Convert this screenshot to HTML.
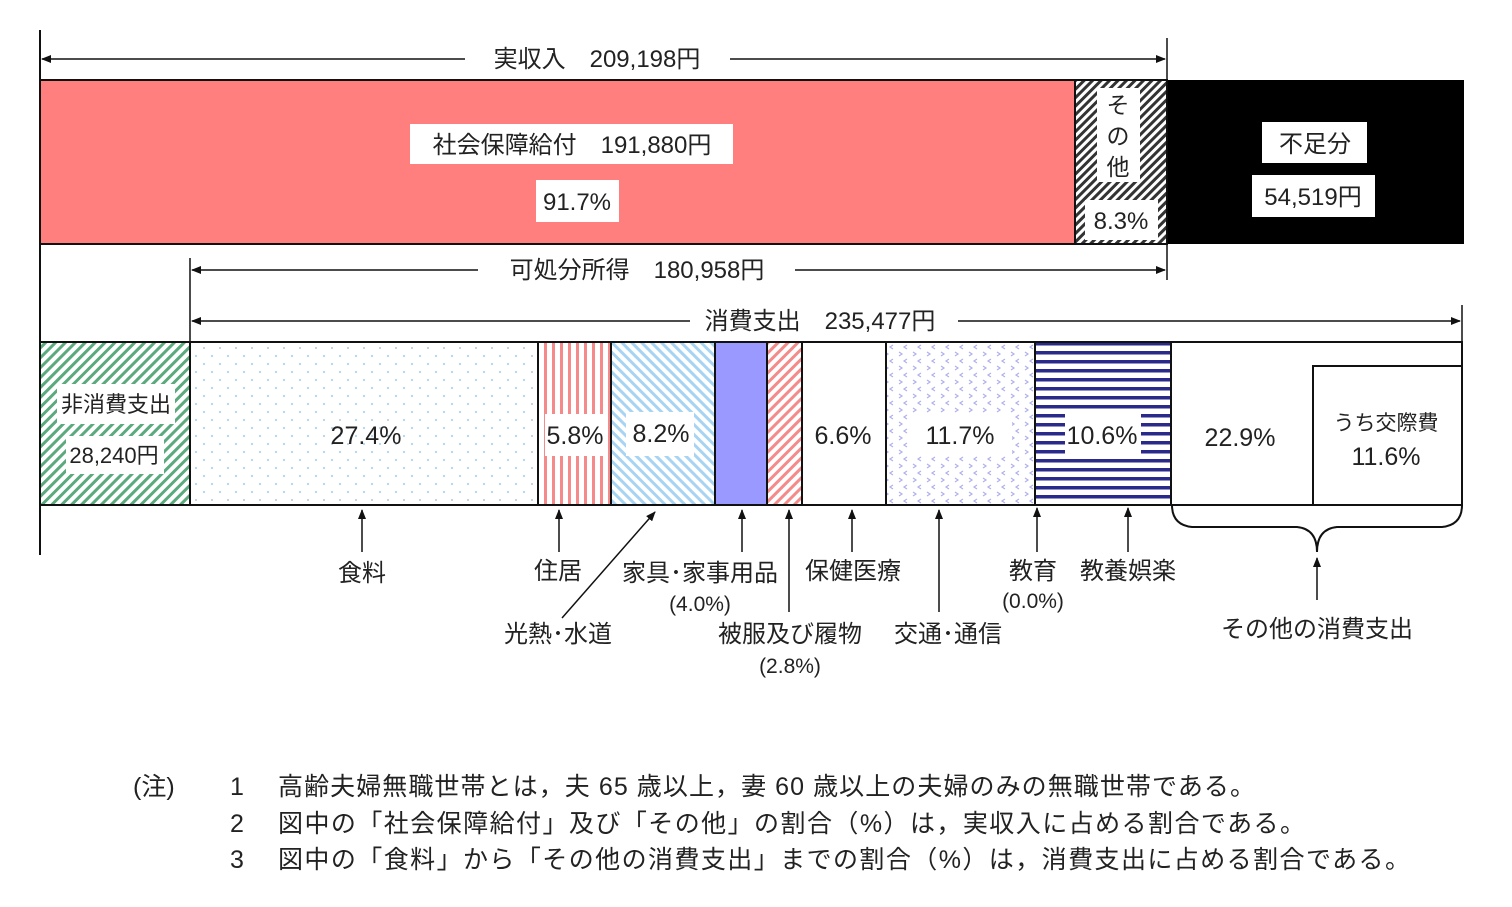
<!DOCTYPE html>
<html><head><meta charset="utf-8"><style>
html,body{margin:0;padding:0;background:#fff;}
svg text{font-family:"Liberation Sans","Noto Sans CJK JP",sans-serif;fill:#222;}
</style></head><body>
<svg width="1512" height="902" viewBox="0 0 1512 902" xmlns="http://www.w3.org/2000/svg">
<defs>
<marker id="ar" markerWidth="10" markerHeight="8" refX="9" refY="4" orient="auto" markerUnits="userSpaceOnUse"><path d="M0,0 L10,4 L0,8 z" fill="#111"/></marker>
<pattern id="bw" width="6" height="6" patternUnits="userSpaceOnUse" patternTransform="rotate(45)"><rect width="6" height="6" fill="#fff"/><rect width="3" height="6" fill="#333"/></pattern>
<pattern id="gr" width="7" height="7" patternUnits="userSpaceOnUse" patternTransform="rotate(45)"><rect width="7" height="7" fill="#fff"/><rect width="3" height="7" fill="#5aaa7e"/></pattern>
<pattern id="dot" width="16" height="16" patternUnits="userSpaceOnUse"><rect width="16" height="16" fill="#fff"/><circle cx="4" cy="4" r="1" fill="#a8cbe8"/><circle cx="12" cy="12" r="1" fill="#a8cbe8"/></pattern>
<pattern id="rv" width="8" height="8" patternUnits="userSpaceOnUse"><rect width="8" height="8" fill="#fff"/><rect width="3" height="8" fill="#f48a8a"/></pattern>
<pattern id="bd" width="7" height="7" patternUnits="userSpaceOnUse" patternTransform="rotate(-45)"><rect width="7" height="7" fill="#fff"/><rect width="3" height="7" fill="#a8d4f4"/></pattern>
<pattern id="rd" width="7" height="7" patternUnits="userSpaceOnUse" patternTransform="rotate(45)"><rect width="7" height="7" fill="#fff"/><rect width="3" height="7" fill="#f48a8a"/></pattern>
<pattern id="ch" width="14" height="14" patternUnits="userSpaceOnUse"><rect width="14" height="14" fill="#fff"/><path d="M3,2 l3,2 l-3,2 M11,9 l-3,2 l3,2" stroke="#b0b0ee" stroke-width="1.2" fill="none"/></pattern>
<pattern id="hs" width="10" height="9" patternUnits="userSpaceOnUse"><rect width="10" height="9" fill="#fff"/><rect y="0" width="10" height="3.5" fill="#2a2a8a"/></pattern>
</defs>

<rect x="40" y="80" width="1035" height="164" fill="#ff7f7f" stroke="#111" stroke-width="2"/>
<rect x="1075" y="80" width="92" height="164" fill="url(#bw)" stroke="#111" stroke-width="2"/>
<rect x="1167" y="80" width="297" height="164" fill="#000"/>
<rect x="410" y="124" width="323" height="40" fill="#fff"/>
<text x="572" y="153" font-size="24" text-anchor="middle">社会保障給付　191,880円</text>
<rect x="536" y="180" width="83" height="42" fill="#fff"/>
<text x="577" y="210" font-size="24" text-anchor="middle">91.7%</text>
<rect x="1097" y="88" width="43" height="94" fill="#fff"/>
<text x="1118" y="113" font-size="23" text-anchor="middle">そ</text>
<text x="1118" y="144" font-size="23" text-anchor="middle">の</text>
<text x="1118" y="175" font-size="23" text-anchor="middle">他</text>
<rect x="1085" y="200" width="73" height="40" fill="#fff"/>
<text x="1121" y="229" font-size="24" text-anchor="middle">8.3%</text>
<rect x="1262" y="122" width="105" height="41" fill="#fff"/>
<text x="1315" y="152" font-size="24" text-anchor="middle">不足分</text>
<rect x="1252" y="175" width="123" height="42" fill="#fff"/>
<text x="1313" y="205" font-size="24" text-anchor="middle">54,519円</text>

<line x1="40" y1="30" x2="40" y2="555" stroke="#111" stroke-width="2"/>
<line x1="1167" y1="38" x2="1167" y2="280" stroke="#111" stroke-width="1.5"/>
<line x1="190" y1="258" x2="190" y2="342" stroke="#111" stroke-width="1.5"/>
<line x1="1462" y1="305" x2="1462" y2="342" stroke="#111" stroke-width="1.5"/>
<line x1="40" y1="342" x2="1462" y2="342" stroke="#111" stroke-width="2"/>

<line x1="465" y1="59" x2="42" y2="59" stroke="#111" stroke-width="1.5" marker-end="url(#ar)"/>
<line x1="730" y1="59" x2="1165" y2="59" stroke="#111" stroke-width="1.5" marker-end="url(#ar)"/>
<text x="597" y="67" font-size="24" text-anchor="middle">実収入　209,198円</text>
<line x1="478" y1="270" x2="192" y2="270" stroke="#111" stroke-width="1.5" marker-end="url(#ar)"/>
<line x1="795" y1="270" x2="1165" y2="270" stroke="#111" stroke-width="1.5" marker-end="url(#ar)"/>
<text x="637" y="278" font-size="24" text-anchor="middle">可処分所得　180,958円</text>
<line x1="690" y1="321" x2="192" y2="321" stroke="#111" stroke-width="1.5" marker-end="url(#ar)"/>
<line x1="958" y1="321" x2="1460" y2="321" stroke="#111" stroke-width="1.5" marker-end="url(#ar)"/>
<text x="820" y="329" font-size="24" text-anchor="middle">消費支出　235,477円</text>

<g stroke="#111" stroke-width="2">
<rect x="40" y="342" width="150" height="163" fill="url(#gr)"/>
<rect x="190" y="342" width="348" height="163" fill="url(#dot)"/>
<rect x="538" y="342" width="73" height="163" fill="url(#rv)"/>
<rect x="611" y="342" width="104" height="163" fill="url(#bd)"/>
<rect x="715" y="342" width="52" height="163" fill="#9999ff"/>
<rect x="767" y="342" width="35" height="163" fill="url(#rd)"/>
<rect x="802" y="342" width="84" height="163" fill="#fff"/>
<rect x="886" y="342" width="149" height="163" fill="url(#ch)"/>
<rect x="1035" y="342" width="136" height="163" fill="url(#hs)"/>
<rect x="1171" y="342" width="291" height="163" fill="#fff"/>
<rect x="1313" y="366" width="149" height="139" fill="#fff"/>
</g>
<rect x="57" y="384" width="118" height="40" fill="#fff"/>
<text x="116" y="412" font-size="22" text-anchor="middle">非消費支出</text>
<rect x="66" y="436" width="98" height="38" fill="#fff"/>
<text x="114" y="463" font-size="22" text-anchor="middle">28,240円</text>
<text x="366" y="444" font-size="25" text-anchor="middle">27.4%</text>
<rect x="545" y="414" width="60" height="42" fill="#fff"/>
<text x="575" y="444" font-size="25" text-anchor="middle">5.8%</text>
<rect x="626" y="412" width="68" height="44" fill="#fff"/>
<text x="661" y="442" font-size="25" text-anchor="middle">8.2%</text>
<text x="843" y="444" font-size="25" text-anchor="middle">6.6%</text>
<rect x="912" y="414" width="100" height="42" fill="#fff"/>
<text x="960" y="444" font-size="25" text-anchor="middle">11.7%</text>
<rect x="1065" y="414" width="76" height="42" fill="#fff"/>
<text x="1102" y="444" font-size="25" text-anchor="middle">10.6%</text>
<text x="1240" y="446" font-size="25" text-anchor="middle">22.9%</text>
<text x="1386" y="430" font-size="21" text-anchor="middle">うち交際費</text>
<text x="1386" y="465" font-size="25" text-anchor="middle">11.6%</text>

<path d="M1172,505 Q1172,525 1192,527 L1297,527 Q1317,529 1317,552 Q1317,529 1337,527 L1442,527 Q1462,525 1462,505" fill="none" stroke="#111" stroke-width="2"/>

<g stroke="#111" stroke-width="1.5">
<line x1="362" y1="552" x2="362" y2="510" marker-end="url(#ar)"/>
<line x1="559" y1="552" x2="559" y2="510" marker-end="url(#ar)"/>
<line x1="562" y1="618" x2="655" y2="512" marker-end="url(#ar)"/>
<line x1="742" y1="552" x2="742" y2="510" marker-end="url(#ar)"/>
<line x1="789" y1="612" x2="789" y2="510" marker-end="url(#ar)"/>
<line x1="852" y1="552" x2="852" y2="510" marker-end="url(#ar)"/>
<line x1="939" y1="612" x2="939" y2="510" marker-end="url(#ar)"/>
<line x1="1037" y1="552" x2="1037" y2="508" marker-end="url(#ar)"/>
<line x1="1128" y1="552" x2="1128" y2="508" marker-end="url(#ar)"/>
<line x1="1317" y1="600" x2="1317" y2="558" marker-end="url(#ar)"/>
</g>
<g font-size="24" text-anchor="middle">
<text x="362" y="581">食料</text>
<text x="558" y="579">住居</text>
<text x="558" y="642">光熱･水道</text>
<text x="700" y="581">家具･家事用品</text>
<text x="700" y="611" font-size="21">(4.0%)</text>
<text x="790" y="642">被服及び履物</text>
<text x="790" y="673" font-size="21">(2.8%)</text>
<text x="853" y="579">保健医療</text>
<text x="948" y="642">交通･通信</text>
<text x="1033" y="579">教育</text>
<text x="1033" y="608" font-size="21">(0.0%)</text>
<text x="1128" y="579">教養娯楽</text>
<text x="1317" y="637">その他の消費支出</text>
</g>

<g font-size="25">
<text x="133" y="795">(注)</text>
<text x="230" y="795">1</text>
<text x="278" y="795" textLength="977" lengthAdjust="spacing">高齢夫婦無職世帯とは，夫 65 歳以上，妻 60 歳以上の夫婦のみの無職世帯である。</text>
<text x="230" y="832">2</text>
<text x="278" y="832" textLength="1027" lengthAdjust="spacing">図中の「社会保障給付」及び「その他」の割合（%）は，実収入に占める割合である。</text>
<text x="230" y="868">3</text>
<text x="278" y="868" textLength="1132" lengthAdjust="spacing">図中の「食料」から「その他の消費支出」までの割合（%）は，消費支出に占める割合である。</text>
</g>
</svg>
</body></html>
